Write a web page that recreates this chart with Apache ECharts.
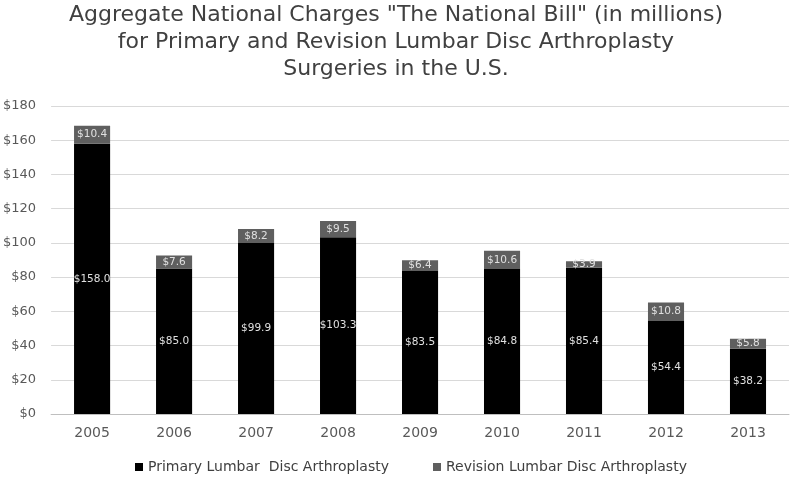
<!DOCTYPE html>
<html><head><meta charset="utf-8">
<script src="https://cdn.jsdelivr.net/npm/echarts@6/dist/echarts.min.js"></script>
<style>html,body{margin:0;padding:0;background:#fff}#c{width:792px;height:480px}</style>
</head><body><div id="c"></div>
<script>
var years = ['2005','2006','2007','2008','2009','2010','2011','2012','2013'];
var primary = [158.0, 85.0, 99.9, 103.3, 83.5, 84.8, 85.4, 54.4, 38.2];
var revision = [10.4, 7.6, 8.2, 9.5, 6.4, 10.6, 3.9, 10.8, 5.8];
var yTicks = [0, 20, 40, 60, 80, 100, 120, 140, 160, 180];

var FONT = 'DejaVu Sans';
var chart = echarts.init(document.getElementById('c'), null, {renderer: 'canvas'});
var fmt = function (p) { return '$' + p.value.toFixed(1); };
chart.setOption({
  animation: false,
  backgroundColor: '#ffffff',
  title: {
    text: 'Aggregate National Charges "The National Bill" (in millions)\nfor Primary and Revision Lumbar Disc Arthroplasty\nSurgeries in the U.S.',
    left: 'center', top: -3,
    textStyle: {fontFamily: FONT, fontSize: 22, fontWeight: 'normal', color: '#404040', lineHeight: 27}
  },
  legend: {
    bottom: 1, left: 130, itemWidth: 8, itemHeight: 8, itemGap: 44, icon: 'rect',
    textStyle: {fontFamily: FONT, fontSize: 14, color: '#404040'},
    data: ['Primary Lumbar  Disc Arthroplasty', 'Revision Lumbar Disc Arthroplasty']
  },
  grid: {left: 51, right: 3, top: 106, bottom: 66, containLabel: false},
  xAxis: {
    type: 'category', data: years,
    axisLine: {lineStyle: {color: '#bfbfbf'}}, axisTick: {show: false},
    axisLabel: {fontFamily: FONT, fontSize: 14, color: '#595959', margin: 12}
  },
  yAxis: {
    type: 'value', min: yTicks[0], max: yTicks[yTicks.length - 1], interval: 20,
    axisLine: {show: false}, axisTick: {show: false},
    splitLine: {lineStyle: {color: '#d9d9d9', width: 1}},
    axisLabel: {fontFamily: FONT, fontSize: 13, color: '#595959', margin: 15,
      formatter: function (v) { return '$' + v; }}
  },
  series: [
    {name: 'Primary Lumbar  Disc Arthroplasty', type: 'bar', stack: 'a', data: primary, barWidth: '44%',
     itemStyle: {color: '#000000'},
     label: {show: true, position: 'inside', formatter: fmt, color: '#e0e0e0', fontSize: 10.5, fontFamily: FONT}},
    {name: 'Revision Lumbar Disc Arthroplasty', type: 'bar', stack: 'a', data: revision, barWidth: '44%',
     itemStyle: {color: '#5f5f5f'},
     label: {show: true, position: 'inside', formatter: fmt, color: '#e0e0e0', fontSize: 10.5, fontFamily: FONT}}
  ]
});
</script></body></html>
